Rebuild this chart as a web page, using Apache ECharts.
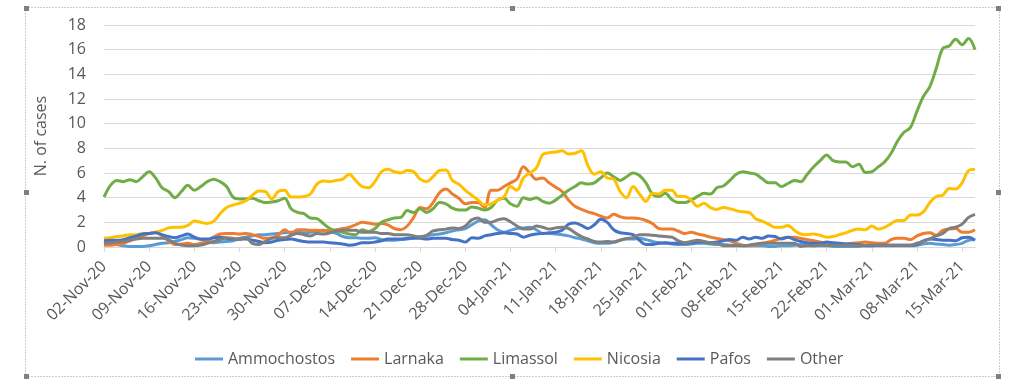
<!DOCTYPE html>
<html>
<head>
<meta charset="utf-8">
<script src="https://cdn.jsdelivr.net/npm/echarts@6/dist/echarts.min.js"></script>
<style>
html,body{margin:0;padding:0;background:#fff;}
#chart{width:1017px;height:388px;}
</style>
</head>
<body>
<div id="chart"></div>
<script>
// Daily categories 02-Nov-20 .. 17-Mar-21
const startDate = [2020, 10, 2];
const dayCount = 136;
const monthNames = ['Jan','Feb','Mar','Apr','May','Jun','Jul','Aug','Sep','Oct','Nov','Dec'];
const categories = [];
for (let i = 0; i < dayCount; i++) {
  const d = new Date(Date.UTC(startDate[0], startDate[1], startDate[2] + i));
  const dd = String(d.getUTCDate()).padStart(2, '0');
  const yy = String(d.getUTCFullYear()).slice(2);
  categories.push(dd + '-' + monthNames[d.getUTCMonth()] + '-' + yy);
}

const seriesNames = ['Ammochostos', 'Larnaka', 'Limassol', 'Nicosia', 'Pafos', 'Other'];

const ammochostos = [0.5,0.35,0.2,0.1,0.05,0.05,0.05,0.1,0.2,0.3,0.35,0.45,0.6,0.75,0.7,0.6,0.45,0.35,0.4,0.45,
0.5,0.7,0.8,0.9,1.0,1.0,1.05,1.1,1.15,1.2,1.2,1.15,1.2,1.3,1.35,1.25,1.1,0.85,0.75,0.75,
0.7,0.7,0.75,0.6,0.55,0.55,0.6,0.65,0.75,0.85,0.9,1.0,1.05,1.15,1.3,1.4,1.5,1.8,2.1,2.2,
1.8,1.4,1.2,1.35,1.5,1.55,1.6,1.4,1.1,1.1,1.05,1.0,0.9,0.75,0.65,0.5,0.35,0.3,0.3,0.4,
0.55,0.65,0.65,0.7,0.6,0.45,0.35,0.3,0.25,0.2,0.2,0.25,0.3,0.3,0.25,0.2,0.2,0.15,0.15,0.1,
0.1,0.1,0.1,0.05,0.05,0.1,0.1,0.15,0.2,0.15,0.1,0.1,0.1,0.05,0.05,0.05,0.05,0.05,0.1,0.1,
0.1,0.1,0.1,0.1,0.1,0.1,0.15,0.25,0.3,0.25,0.2,0.15,0.2,0.3,0.55,0.6];

const larnaka = [0.15,0.15,0.2,0.3,0.5,0.7,0.9,1.1,1.2,0.9,0.5,0.2,0.25,0.3,0.2,0.3,0.45,0.8,1.05,1.1,
1.1,1.05,1.1,1.0,0.85,0.7,0.75,0.95,1.4,1.1,1.4,1.4,1.35,1.35,1.3,1.35,1.4,1.5,1.6,1.8,
2.0,1.95,1.85,1.9,1.8,1.5,1.4,1.7,2.4,3.2,3.1,3.6,4.4,4.7,4.3,3.95,3.5,3.6,3.6,3.2,
4.6,4.6,4.9,5.2,5.5,6.5,6.0,5.5,5.6,5.2,4.85,4.5,3.8,3.3,3.05,2.85,2.7,2.5,2.35,2.65,
2.45,2.35,2.35,2.3,2.15,1.9,1.5,1.45,1.45,1.3,1.1,1.2,1.05,0.95,0.8,0.7,0.6,0.5,0.3,0.15,
0.1,0.2,0.3,0.4,0.55,0.7,0.8,0.8,0.7,0.6,0.5,0.4,0.3,0.3,0.25,0.25,0.3,0.35,0.4,0.35,
0.3,0.3,0.6,0.7,0.7,0.6,0.9,1.1,1.15,0.95,1.35,1.45,1.5,1.2,1.2,1.4];

const limassol = [4.05,5.0,5.4,5.3,5.45,5.3,5.7,6.1,5.6,4.8,4.5,4.0,4.5,5.0,4.6,4.9,5.3,5.5,5.3,4.9,
4.05,3.9,3.9,3.95,3.75,3.6,3.65,3.75,3.95,3.1,2.8,2.7,2.35,2.3,1.9,1.5,1.3,1.2,1.05,1.0,
1.4,1.25,1.5,2.0,2.2,2.35,2.4,2.95,2.8,3.1,2.8,3.1,3.6,3.5,3.15,3.0,3.0,3.25,3.15,3.0,
3.2,3.8,3.95,3.5,3.3,4.0,3.85,4.0,3.7,3.55,3.8,4.2,4.6,4.9,5.2,5.1,5.2,5.6,6.0,5.7,
5.4,5.7,6.0,5.8,5.2,4.3,4.1,4.35,3.85,3.6,3.6,3.8,4.1,4.35,4.3,4.8,4.95,5.4,5.9,6.1,
6.0,5.9,5.55,5.2,5.2,4.9,5.15,5.4,5.3,5.9,6.5,7.0,7.45,7.0,6.9,6.9,6.5,6.7,6.05,6.1,
6.5,6.9,7.6,8.6,9.3,9.7,11.0,12.2,13.0,14.5,16.1,16.3,16.85,16.4,16.9,16.0];

const nicosia = [0.7,0.75,0.85,0.9,1.0,1.0,1.1,1.1,1.2,1.35,1.55,1.6,1.6,1.75,2.1,2.0,1.9,2.1,2.7,3.2,
3.4,3.55,3.75,4.2,4.55,4.5,3.9,4.5,4.6,4.05,4.05,4.1,4.3,5.1,5.35,5.3,5.4,5.5,5.9,5.4,
4.9,4.8,5.3,6.1,6.3,6.1,6.0,6.2,6.1,5.5,5.3,5.7,6.2,6.25,5.4,5.1,4.6,4.2,3.8,3.4,
3.5,3.8,4.05,4.9,4.6,5.6,6.0,6.4,7.5,7.65,7.7,7.8,7.55,7.6,7.8,6.6,5.9,6.1,5.6,5.5,
4.5,4.0,4.9,4.3,3.7,4.35,4.3,4.6,4.6,4.1,4.1,3.8,3.3,3.55,3.2,3.05,3.2,3.1,2.95,2.85,
2.8,2.3,2.1,1.85,1.6,1.6,1.75,1.35,1.05,1.0,1.05,0.95,0.8,0.85,1.0,1.15,1.35,1.45,1.4,1.7,
1.45,1.6,1.9,2.15,2.15,2.6,2.6,2.85,3.6,4.1,4.2,4.75,4.7,5.2,6.2,6.3];

const pafos = [0.5,0.55,0.55,0.6,0.75,0.9,1.05,1.1,1.15,1.0,0.85,0.75,0.9,1.05,0.8,0.65,0.65,0.75,0.8,0.7,
0.65,0.65,0.65,0.55,0.45,0.35,0.4,0.55,0.6,0.65,0.55,0.45,0.4,0.4,0.4,0.35,0.3,0.25,0.15,0.2,
0.35,0.35,0.4,0.5,0.65,0.65,0.65,0.7,0.7,0.7,0.65,0.7,0.7,0.7,0.6,0.55,0.4,0.75,0.7,0.9,
1.0,1.1,1.15,1.1,1.05,0.8,0.95,1.05,1.1,1.15,1.2,1.35,1.85,1.95,1.75,1.5,1.8,2.25,2.0,1.4,
1.15,1.1,1.0,0.55,0.2,0.2,0.3,0.35,0.3,0.3,0.3,0.35,0.4,0.4,0.35,0.4,0.5,0.6,0.55,0.8,
0.65,0.8,0.7,0.9,0.85,0.65,0.8,0.6,0.45,0.35,0.3,0.3,0.4,0.35,0.3,0.25,0.25,0.2,0.1,0.1,
0.15,0.15,0.15,0.15,0.15,0.15,0.2,0.5,0.65,0.6,0.55,0.55,0.5,0.75,0.8,0.55];

const other = [0.3,0.35,0.4,0.45,0.55,0.65,0.7,0.7,0.7,0.7,0.6,0.3,0.15,0.1,0.1,0.15,0.3,0.45,0.6,0.75,
0.7,0.6,0.75,0.3,0.2,0.45,0.7,0.75,0.75,0.95,1.1,1.0,0.9,1.1,1.05,1.15,1.3,1.35,1.35,1.35,
1.2,1.2,1.2,1.1,1.1,1.0,1.0,1.0,0.9,0.8,0.95,1.3,1.4,1.45,1.55,1.5,1.7,2.2,2.35,2.0,
2.0,2.2,2.3,2.05,1.7,1.45,1.45,1.7,1.6,1.45,1.55,1.6,1.5,1.15,0.85,0.65,0.45,0.4,0.45,0.4,
0.55,0.7,0.75,1.0,1.0,0.95,0.9,0.85,0.8,0.5,0.35,0.45,0.55,0.45,0.35,0.3,0.1,0.1,0.1,0.1,
0.15,0.25,0.3,0.3,0.3,0.3,0.3,0.3,0.05,0.1,0.1,0.15,0.15,0.15,0.15,0.15,0.15,0.15,0.15,0.15,
0.15,0.15,0.15,0.15,0.15,0.15,0.3,0.45,0.65,0.9,1.1,1.5,1.6,1.85,2.4,2.65];

const seriesData = [ammochostos, larnaka, limassol, nicosia, pafos, other];
const colors = ['#5B9BD5', '#ED7D31', '#70AD47', '#FFC000', '#4472C4', '#7F7F7F'];

const font = 'Open Sans';
const textColor = '#595959';

const chart = echarts.init(document.getElementById('chart'), null, {renderer: 'canvas'});

function handle(x, y) {
  return {type: 'rect', shape: {x: x - 2, y: y - 2, width: 5, height: 5}, style: {fill: '#808080'}, silent: true};
}

chart.setOption({
  animation: false,
  backgroundColor: '#ffffff',
  color: colors,
  grid: {left: 104, right: 42, top: 25, bottom: 141, containLabel: false},
  legend: {
    data: seriesNames,
    top: 346,
    left: 190,
    icon: 'rect',
    itemWidth: 28,
    itemHeight: 3,
    itemGap: 16,
    textStyle: {fontFamily: font, fontSize: 16, color: textColor}
  },
  xAxis: {
    type: 'category',
    data: categories,
    boundaryGap: false,
    axisLine: {lineStyle: {color: '#D9D9D9', width: 1}},
    axisTick: {show: true, interval: 6, length: 5, lineStyle: {color: '#D9D9D9'}},
    axisLabel: {interval: 6, rotate: 45, margin: 17, fontFamily: font, fontSize: 16, color: textColor}
  },
  yAxis: {
    type: 'value',
    min: 0, max: 18, interval: 2,
    name: 'N. of cases',
    nameLocation: 'middle',
    nameGap: 55,
    nameRotate: 90,
    nameTextStyle: {fontFamily: font, fontSize: 16, color: textColor},
    axisLine: {show: false},
    axisTick: {show: false},
    splitLine: {lineStyle: {color: '#D9D9D9', width: 1}},
    axisLabel: {margin: 18, fontFamily: font, fontSize: 16, color: textColor}
  },
  series: seriesNames.map((n, k) => ({
    name: n,
    type: 'line',
    data: seriesData[k],
    smooth: 0.35,
    symbol: 'none',
    lineStyle: {width: 3, color: colors[k]},
    itemStyle: {color: colors[k]}
  })),
  graphic: [
    {type: 'rect', shape: {x: 25.5, y: 7.5, width: 974, height: 369}, style: {fill: 'none', stroke: '#9a9a9a', lineWidth: 1, lineDash: [1, 2]}, silent: true},
    handle(26, 8), handle(512, 8), handle(998, 8),
    handle(26, 192), handle(998, 192),
    handle(26, 376), handle(512, 376), handle(998, 376)
  ]
});
</script>
</body>
</html>
